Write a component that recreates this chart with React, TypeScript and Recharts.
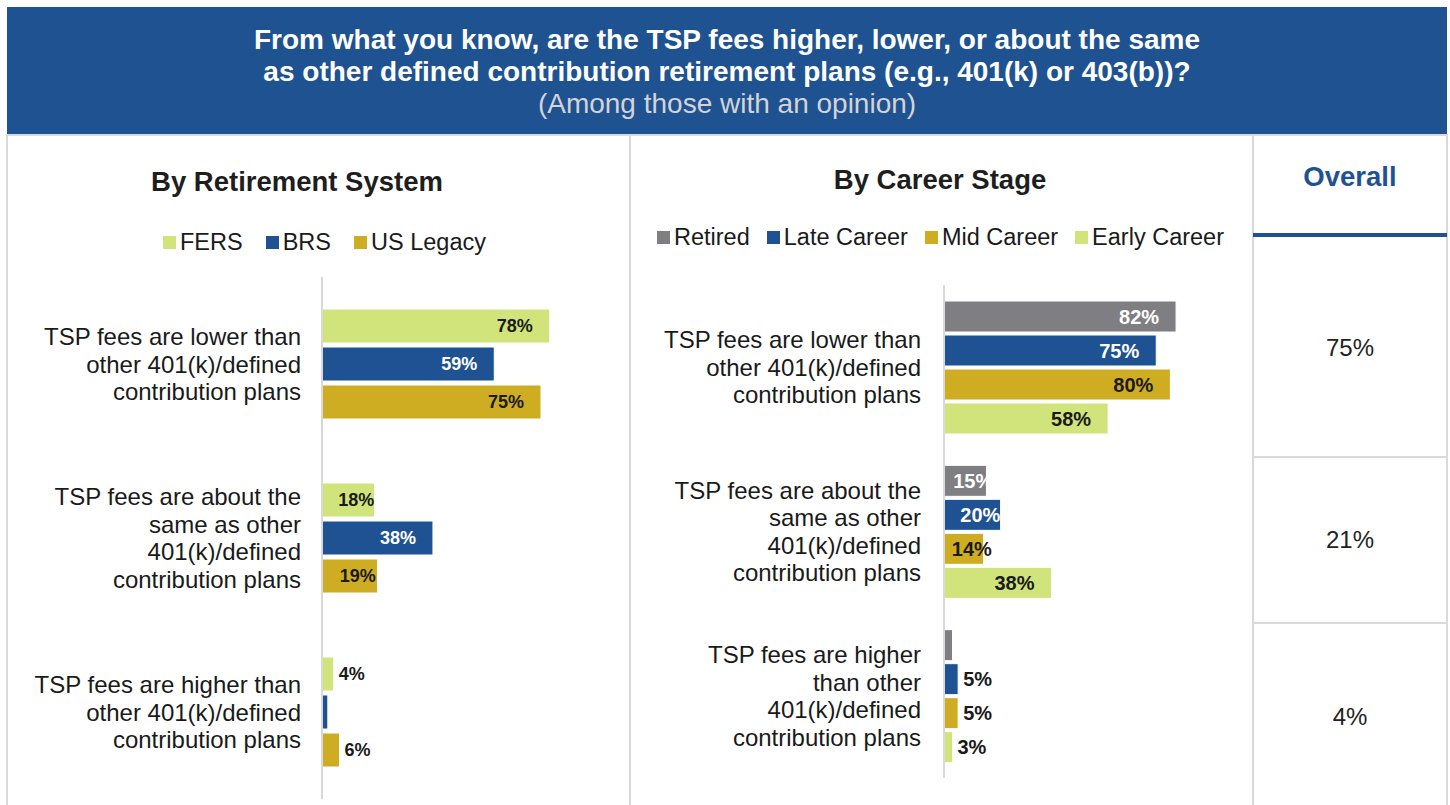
import React from 'react';
import { BarChart, Bar, XAxis, YAxis, LabelList } from 'recharts';

const FONT = '"Liberation Sans", Arial, Helvetica, sans-serif';

// ---------- data ----------
const categories = [
  'TSP fees are lower than other 401(k)/defined contribution plans',
  'TSP fees are about the same as other 401(k)/defined contribution plans',
  'TSP fees are higher than other 401(k)/defined contribution plans',
];
const systemTickLines = [
  ['TSP fees are lower than', 'other 401(k)/defined', 'contribution plans'],
  ['TSP fees are about the', 'same as other', '401(k)/defined', 'contribution plans'],
  ['TSP fees are higher than', 'other 401(k)/defined', 'contribution plans'],
];
const careerTickLines = [
  ['TSP fees are lower than', 'other 401(k)/defined', 'contribution plans'],
  ['TSP fees are about the', 'same as other', '401(k)/defined', 'contribution plans'],
  ['TSP fees are higher', 'than other', '401(k)/defined', 'contribution plans'],
];

const fersValues = [78, 18, 4];
const brsValues = [59, 38, 2];
const usLegacyValues = [75, 19, 6];

const retiredValues = [82, 15, 3];
const lateCareerValues = [75, 20, 5];
const midCareerValues = [80, 14, 5];
const earlyCareerValues = [58, 38, 3];

const overallValues = [75, 21, 4];

const brsShowLabel = [true, true, false];
const retiredShowLabel = [true, true, false];

const titleLines = [
  'From what you know, are the TSP fees higher, lower, or about the same',
  'as other defined contribution retirement plans (e.g., 401(k) or 403(b))?',
];
const subtitle = '(Among those with an opinion)';

// ---------- colours ----------
const GREEN = '#d1e47b';
const BLUE = '#1f5292';
const GOLD = '#cfad22';
const GRAY = '#7f7f83';
const DARK = '#1a1a1a';
const LINE = '#d9d9d9';

const systemSeries = [
  { key: 'fers', name: 'FERS', color: GREEN, text: DARK, values: fersValues, show: null as boolean[] | null },
  { key: 'brs', name: 'BRS', color: BLUE, text: '#ffffff', values: brsValues, show: brsShowLabel },
  { key: 'legacy', name: 'US Legacy', color: GOLD, text: DARK, values: usLegacyValues, show: null },
];
const careerSeries = [
  { key: 'retired', name: 'Retired', color: GRAY, text: '#ffffff', values: retiredValues, show: retiredShowLabel },
  { key: 'late', name: 'Late Career', color: BLUE, text: '#ffffff', values: lateCareerValues, show: null },
  { key: 'mid', name: 'Mid Career', color: GOLD, text: DARK, values: midCareerValues, show: null },
  { key: 'early', name: 'Early Career', color: GREEN, text: DARK, values: earlyCareerValues, show: null },
];

const buildData = (series: any[]) =>
  categories.map((c, i) => {
    const row: any = { category: c };
    series.forEach((s) => (row[s.key] = s.values[i]));
    return row;
  });

const systemData = buildData(systemSeries);
const careerData = buildData(careerSeries);

// ---------- helpers ----------
const makeLabel = (fontSize: number, textColor: string, show: boolean[] | null) => (props: any) => {
  const vb = props.viewBox || {};
  const x = Number(vb.x ?? props.x);
  const y = Number(vb.y ?? props.y);
  const width = Number(vb.width ?? props.width);
  const height = Number(vb.height ?? props.height);
  const value = Number(props.value);
  const index = props.index;
  if (show && index != null && !show[index]) return null;
  const str = `${value}%`;
  const tw = (String(value).length * 0.556 + 0.889) * fontSize;
  const cy = y + height / 2;
  if (value < 10) {
    return (
      <text x={x + width + 5} y={cy} textAnchor="start" dominantBaseline="central"
        fontFamily={FONT} fontWeight="bold" fontSize={fontSize} fill={DARK}>
        {str}
      </text>
    );
  }
  const end = Math.max(x + width - 17, x + width / 2 + 8 + tw / 2);
  return (
    <text x={end} y={cy} textAnchor="end" dominantBaseline="central"
      fontFamily={FONT} fontWeight="bold" fontSize={fontSize} fill={textColor}>
      {str}
    </text>
  );
};

const makeTick = (linesArr: string[][], dx: number) => (props: any) => {
  const { x, y, payload } = props;
  const idx = categories.indexOf(payload.value);
  const lines = linesArr[idx] || [String(payload.value)];
  const n = lines.length;
  const lh = 27.5;
  return (
    <text x={x - dx} y={y} textAnchor="end" fontFamily={FONT} fontSize={24} fill={DARK}>
      {lines.map((l, i) => (
        <tspan key={i} x={x - dx} y={y + (i - (n - 1) / 2) * lh} dominantBaseline="central">
          {l}
        </tspan>
      ))}
    </text>
  );
};

function HtmlLegend({ items, left, top, gap }: { items: any[]; left: number; top: number; gap: number }) {
  return (
    <div style={{
      position: 'absolute', left, top, display: 'flex', alignItems: 'center',
      fontFamily: FONT, fontSize: 23.5, lineHeight: '28px', color: DARK, whiteSpace: 'nowrap',
    }}>
      {items.map((it, i) => (
        <div key={it.key} style={{ display: 'flex', alignItems: 'center', marginRight: i < items.length - 1 ? gap : 0 }}>
          <span style={{ display: 'inline-block', width: 13, height: 13, background: it.color, marginRight: 4 }} />
          <span>{it.name}</span>
        </div>
      ))}
    </div>
  );
}

const abs = (style: React.CSSProperties): React.CSSProperties => ({ position: 'absolute', ...style });

export default function App() {
  return (
    <div style={abs({ left: 0, top: 0, width: 1450, height: 805, background: '#ffffff', overflow: 'hidden', fontFamily: FONT })}>
      {/* header */}
      <div style={abs({ left: 7, top: 7, width: 1440, height: 127, background: '#1f5290' })} />
      <div style={abs({ left: 7, top: 24, width: 1440, textAlign: 'center', lineHeight: '32px' })}>
        {titleLines.map((t, i) => (
          <div key={i} style={{ color: '#ffffff', fontWeight: 'bold', fontSize: 28 }}>{t}</div>
        ))}
        <div style={{ color: '#d3d3d8', fontSize: 28 }}>{subtitle}</div>
      </div>

      {/* panel borders */}
      <div style={abs({ left: 7, top: 134, width: 1440, height: 2, background: LINE })} />
      <div style={abs({ left: 6, top: 134, width: 2, height: 671, background: LINE })} />
      <div style={abs({ left: 629, top: 134, width: 2, height: 671, background: LINE })} />
      <div style={abs({ left: 1252, top: 134, width: 2, height: 671, background: LINE })} />
      <div style={abs({ left: 1446, top: 134, width: 2, height: 671, background: LINE })} />
      <div style={abs({ left: 1253, top: 233, width: 194, height: 4, background: BLUE })} />
      <div style={abs({ left: 1253, top: 456, width: 194, height: 2, background: LINE })} />
      <div style={abs({ left: 1253, top: 622, width: 194, height: 2, background: LINE })} />

      {/* panel titles */}
      <div style={abs({ left: 97, top: 166, width: 400, textAlign: 'center', fontSize: 27.5, fontWeight: 'bold', color: '#1e1e1e', lineHeight: '32px' })}>
        By Retirement System
      </div>
      <div style={abs({ left: 740, top: 164, width: 400, textAlign: 'center', fontSize: 27.5, fontWeight: 'bold', color: '#1e1e1e', lineHeight: '32px' })}>
        By Career Stage
      </div>
      <div style={abs({ left: 1253, top: 161, width: 194, textAlign: 'center', fontSize: 27.5, fontWeight: 'bold', color: BLUE, lineHeight: '32px' })}>
        Overall
      </div>

      {/* overall values */}
      {[348, 540, 717].map((cy, i) => (
        <div key={i} style={abs({ left: 1253, top: cy - 14, width: 194, textAlign: 'center', fontSize: 24, color: '#222', lineHeight: '28px' })}>
          {overallValues[i]}%
        </div>
      ))}

      {/* legends */}
      <HtmlLegend items={systemSeries} left={163} top={228} gap={23} />
      <HtmlLegend items={careerSeries} left={657} top={223} gap={17} />

      {/* left chart */}
      <div style={abs({ left: 0, top: 277, width: 640, height: 522 })}>
        <BarChart width={640} height={522} data={systemData} layout="vertical"
          margin={{ top: 0, right: 26, bottom: 0, left: 0 }} barGap={4} barCategoryGap={0}>
          <XAxis type="number" domain={[0, 100]} hide />
          <YAxis type="category" dataKey="category" width={322} tickLine={false} tickSize={0} tickMargin={0}
            axisLine={{ stroke: LINE, strokeWidth: 2 }} tick={makeTick(systemTickLines, 21)} interval={0} />
          {systemSeries.map((s) => (
            <Bar key={s.key} dataKey={s.key} name={s.name} fill={s.color} stroke="#ffffff" strokeWidth={1}
              barSize={34} isAnimationActive={false}>
              <LabelList dataKey={s.key} content={makeLabel(18, s.text, s.show)} />
            </Bar>
          ))}
        </BarChart>
      </div>

      {/* middle chart */}
      <div style={abs({ left: 630, top: 285, width: 617, height: 493 })}>
        <BarChart width={617} height={493} data={careerData} layout="vertical"
          margin={{ top: 0, right: 20, bottom: 0, left: 0 }} barGap={3} barCategoryGap={0}>
          <XAxis type="number" domain={[0, 100]} hide />
          <YAxis type="category" dataKey="category" width={314} tickLine={false} tickSize={0} tickMargin={0}
            axisLine={{ stroke: LINE, strokeWidth: 2 }} tick={makeTick(careerTickLines, 23)} interval={0} />
          {careerSeries.map((s) => (
            <Bar key={s.key} dataKey={s.key} name={s.name} fill={s.color} stroke="#ffffff" strokeWidth={1}
              barSize={31} isAnimationActive={false}>
              <LabelList dataKey={s.key} content={makeLabel(20, s.text, s.show)} />
            </Bar>
          ))}
        </BarChart>
      </div>
    </div>
  );
}
